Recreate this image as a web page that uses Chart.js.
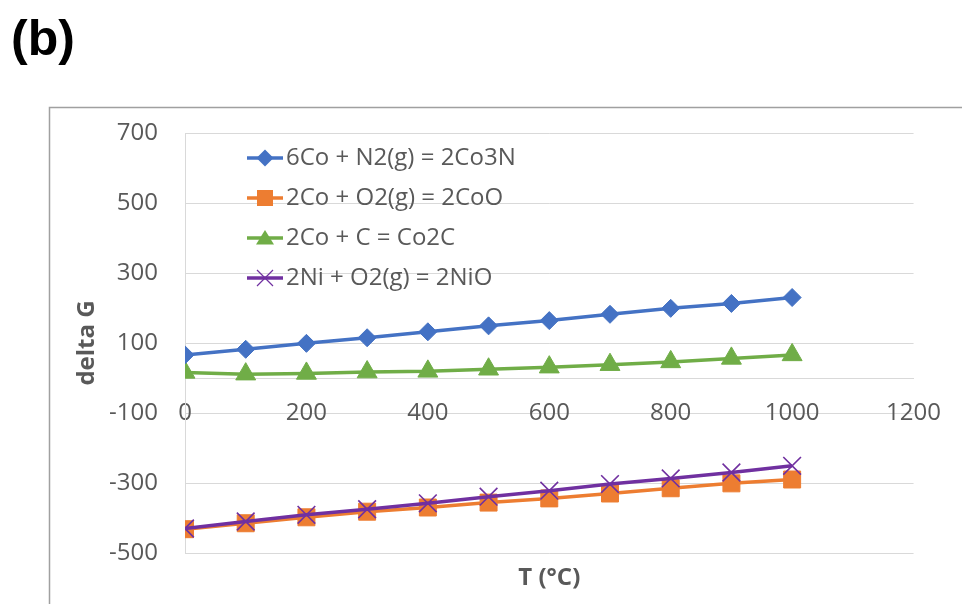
<!DOCTYPE html>
<html>
<head>
<meta charset="utf-8">
<script src="https://cdn.jsdelivr.net/npm/chart.js@4.4.1/dist/chart.umd.min.js"></script>
<style>
html,body{margin:0;padding:0;background:#ffffff;overflow:hidden}
#wrap{position:relative;width:962px;height:604px}
</style>
</head>
<body>
<div id="wrap"><canvas id="c" width="962" height="604"></canvas></div>
<script>
// ---- data ----
const temperatures = [0, 100, 200, 300, 400, 500, 600, 700, 800, 900, 1000];
const seriesNames = ['6Co + N2(g) = 2Co3N', '2Co + O2(g) = 2CoO', '2Co + C = Co2C', '2Ni + O2(g) = 2NiO'];
const co3nValues = [66, 82, 99, 115, 132, 149, 164, 182, 199, 213, 230];
const cooValues = [-432, -415, -398, -382, -370, -356, -344, -330, -315, -301, -290];
const co2cValues = [16, 11, 13, 17, 19, 25, 31, 38, 46, 56, 66];
const nioValues = [-430, -410, -391, -375, -358, -339, -322, -303, -287, -270, -251];
const xTickValues = [0, 200, 400, 600, 800, 1000, 1200];
const yTickValues = [-500, -300, -100, 100, 300, 500, 700];
const panelLabel = '(b)';
const xTitle = 'T (\u00B0C)';
const yTitle = 'delta G';

// ---- styling ----
const colors = ['#4472c4', '#ed7d31', '#70ad47', '#7030a0'];
const markers = ['rectRot', 'rect', 'triangle', 'crossRot'];
const markerRadius = [9, 12, 11.5, 12.5];
const textColor = '#595959';
const gridColor = '#d9d9d9';
const FONT = "'Open Sans', 'DejaVu Sans', sans-serif";

function makeIcon(color, kind) {
  const c = document.createElement('canvas');
  c.width = 36; c.height = 22;
  const g = c.getContext('2d');
  g.strokeStyle = color; g.fillStyle = color;
  g.lineWidth = 3.5;
  g.beginPath(); g.moveTo(0, 11); g.lineTo(36, 11); g.stroke();
  const cx = 18, cy = 11;
  g.beginPath();
  if (kind === 'rectRot') {
    g.moveTo(cx, cy - 8.5); g.lineTo(cx + 8.5, cy); g.lineTo(cx, cy + 8.5); g.lineTo(cx - 8.5, cy); g.closePath(); g.fill();
  } else if (kind === 'rect') {
    g.fillRect(cx - 8, cy - 8, 16, 16);
  } else if (kind === 'triangle') {
    g.moveTo(cx, cy - 8); g.lineTo(cx + 9, cy + 6.5); g.lineTo(cx - 9, cy + 6.5); g.closePath(); g.fill();
  } else {
    g.lineWidth = 1.2;
    g.moveTo(cx - 8, cy - 8); g.lineTo(cx + 8, cy + 8);
    g.moveTo(cx + 8, cy - 8); g.lineTo(cx - 8, cy + 8); g.stroke();
  }
  return c;
}
const icons = colors.map((col, i) => makeIcon(col, markers[i]));

const valueSets = [co3nValues, cooValues, co2cValues, nioValues];
const drawOrder = [1, 2, 1, 0];
const datasets = valueSets.map((vals, i) => ({
  label: seriesNames[i],
  data: temperatures.map((t, k) => ({x: t, y: vals[k]})),
  borderColor: colors[i],
  backgroundColor: colors[i],
  borderWidth: 3.5,
  pointStyle: markers[i],
  pointRadius: markerRadius[i],
  pointBorderWidth: markers[i] === 'crossRot' ? 1.6 : 1,
  pointBackgroundColor: colors[i],
  pointBorderColor: colors[i],
  fill: false,
  tension: 0,
  order: drawOrder[i]
}));

const framePlugin = {
  id: 'frame',
  beforeDraw(chart) {
    const ctx = chart.ctx;
    ctx.save();
    ctx.fillStyle = '#ffffff';
    ctx.fillRect(0, 0, chart.width, chart.height);
    ctx.strokeStyle = '#a0a0a0';
    ctx.lineWidth = 1.5;
    ctx.strokeRect(49.5, 107.5, chart.width + 20, chart.height);
    ctx.fillStyle = '#000000';
    ctx.font = "bold 50px 'Liberation Sans', Arial, sans-serif";
    ctx.textBaseline = 'alphabetic';
    ctx.textAlign = 'left';
    ctx.fillText(panelLabel, 11, 55);
    ctx.restore();
  }
};

const legendShift = {
  id: 'legendShift',
  afterLayout(chart) {
    const lg = chart.legend;
    if (!lg) return;
    const ca = chart.chartArea;
    lg.left = ca.left + 55;
    lg.top = ca.top - 3;
    lg.right = lg.left + lg.width;
    lg.bottom = lg.top + lg.height;
  }
};

new Chart(document.getElementById('c'), {
  type: 'line',
  data: { datasets },
  plugins: [framePlugin, legendShift],
  options: {
    responsive: false,
    animation: false,
    layout: { padding: { top: 133, left: 65, right: 44, bottom: 0 } },
    plugins: {
      tooltip: { enabled: false },
      title: { display: false },
      legend: {
        display: true,
        position: 'chartArea',
        align: 'start',
        labels: {
          color: textColor,
          font: { family: FONT, size: 24 },
          usePointStyle: true,
          pointStyleWidth: 18,
          padding: 16,
          generateLabels: (chart) => chart.data.datasets.map((ds, i) => ({
            text: ds.label,
            fillStyle: colors[i],
            strokeStyle: colors[i],
            lineWidth: 0,
            pointStyle: icons[i],
            fontColor: textColor,
            hidden: false,
            datasetIndex: i
          }))
        }
      }
    },
    scales: {
      x: {
        type: 'linear',
        position: { y: 0 },
        min: 0,
        max: 1200,
        afterBuildTicks: (s) => { s.ticks = xTickValues.map(v => ({ value: v })); },
        grid: { display: false, drawTicks: false },
        border: { display: true, color: gridColor, width: 1 },
        ticks: {
          color: textColor,
          font: { family: FONT, size: 24 },
          padding: 21,
          maxRotation: 0,
          autoSkip: false,
          callback: (v) => String(v)
        }
      },
      xTitleAxis: {
        type: 'linear',
        position: 'bottom',
        min: 0,
        max: 1200,
        grid: { display: false, drawTicks: false },
        border: { display: false },
        ticks: { display: false },
        title: {
          display: true,
          text: xTitle,
          color: textColor,
          font: { family: FONT, size: 24, weight: 'bold' },
          padding: { top: 10.6, bottom: 11.6 }
        }
      },
      y: {
        type: 'linear',
        min: -500,
        max: 700,
        afterBuildTicks: (s) => { s.ticks = yTickValues.map(v => ({ value: v })); },
        afterFit: (s) => { s.width = 120; },
        grid: { display: true, color: gridColor, lineWidth: 1, drawTicks: false },
        border: { display: true, color: gridColor, width: 1 },
        ticks: {
          color: textColor,
          font: { family: FONT, size: 24 },
          padding: 27,
          callback: (v) => String(v)
        },
        title: {
          display: true,
          text: yTitle,
          color: textColor,
          font: { family: FONT, size: 24, weight: 'bold' },
          padding: { top: 8, bottom: 0 }
        }
      }
    }
  }
});
</script>
</body>
</html>
